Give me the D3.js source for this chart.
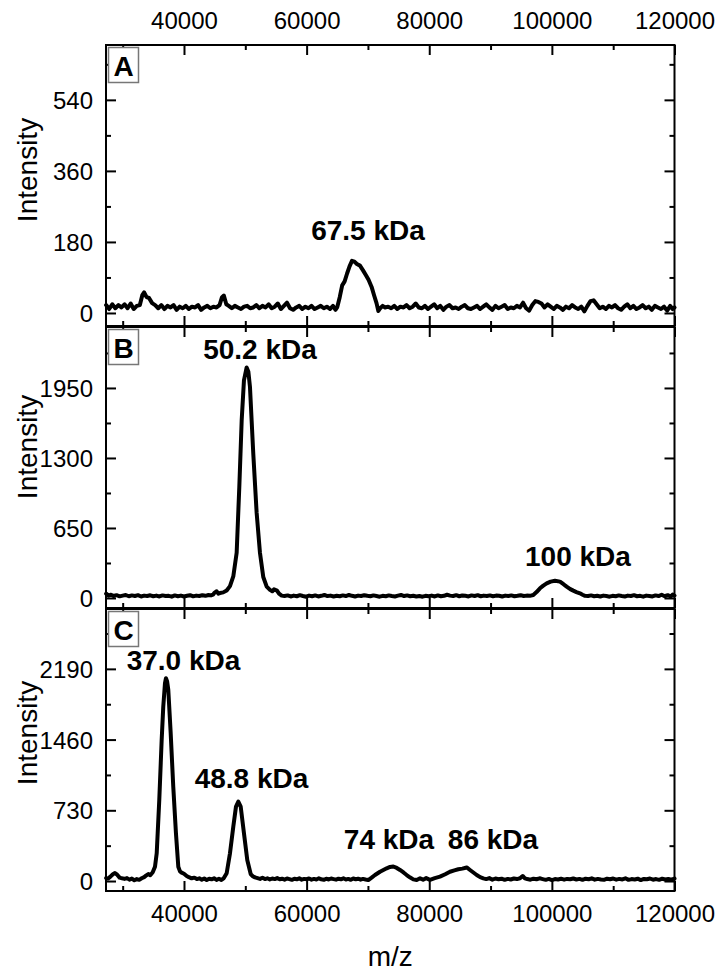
<!DOCTYPE html>
<html><head><meta charset="utf-8">
<script src="https://cdn.jsdelivr.net/npm/d3@7"></script>
<style>
body{margin:0;background:#fff}
svg{display:block}
text{font-family:"Liberation Sans",Arial,Helvetica,sans-serif;fill:#000}
</style>
</head><body>
<svg id="chart" width="718" height="974"></svg>
<script>
// ---------- DATA (m/z, intensity) ----------
const spectrumA = [
[27300,20],[27800,10],[28300,22],[28800,12],[29300,20],[29800,14],[30300,22],[30800,12],[31300,24],[31800,10],
[32300,18],[32800,20],[33200,45],[33500,52],[33900,40],[34300,38],[34800,25],[35300,20],[35800,12],[36300,20],
[36800,10],[37300,18],[37800,14],[38300,20],[38800,8],[39300,16],[39800,12],[40300,18],[40800,10],[41300,16],
[41800,14],[42300,20],[42800,8],[43300,14],[43800,18],[44300,12],[44800,16],[45300,14],[45800,20],[46200,40],
[46500,44],[46900,22],[47300,18],[47800,12],[48300,18],[48800,14],[49300,10],[49800,16],[50300,18],[50800,12],
[51300,14],[51800,20],[52300,12],[52800,18],[53300,14],[53800,22],[54300,12],[54800,16],[55300,24],[55800,10],
[56300,18],[56800,26],[57300,12],[57800,8],[58300,14],[58800,18],[59300,10],[59800,16],[60300,12],[60800,18],
[61300,10],[61800,14],[62300,18],[62800,12],[63300,16],[63800,10],[64300,18],[64700,8],[65000,15],[65400,40],
[65800,70],[66200,80],[66600,100],[67000,118],[67400,132],[67800,130],[68200,124],[68700,120],[69200,108],[69700,95],
[70100,84],[70600,66],[71000,45],[71400,25],[71700,5],[72000,12],[72400,18],[72800,14],[73300,16],[73800,12],
[74300,18],[74800,10],[75300,16],[75800,14],[76300,20],[76800,12],[77300,16],[77800,24],[78300,14],[78800,12],
[79300,18],[79800,10],[80300,16],[80800,22],[81300,12],[81800,18],[82300,8],[82800,16],[83300,20],[83800,12],
[84300,14],[84800,10],[85300,16],[85800,20],[86300,12],[86800,10],[87300,14],[87800,18],[88300,10],[88800,16],
[89300,22],[89800,14],[90300,8],[90800,18],[91300,12],[91800,16],[92300,20],[92800,10],[93300,14],[93800,12],
[94300,18],[94800,14],[95300,26],[95800,12],[96300,6],[96800,20],[97300,30],[97800,28],[98300,24],[98800,14],
[99300,22],[99800,16],[100300,10],[100800,18],[101300,14],[101800,8],[102300,16],[102800,12],[103300,20],[103800,14],
[104300,10],[104800,16],[105300,4],[105800,18],[106300,30],[106800,32],[107300,22],[107800,12],[108300,16],[108800,10],
[109300,18],[109800,14],[110300,20],[110800,12],[111300,8],[111800,16],[112300,22],[112800,12],[113300,18],[113800,10],
[114300,14],[114800,20],[115300,12],[115800,16],[116300,8],[116800,18],[117300,14],[117800,10],[118300,16],[118800,6],
[119300,18],[119700,10],[120000,14]
];
const spectrumB = [
[27300,40],[27700,22],[28100,30],[28500,18],[29000,26],[29500,15],[30000,22],[30500,28],[31000,16],[31500,24],
[32000,18],[32500,26],[33000,14],[33500,22],[34000,18],[34500,25],[35000,16],[35500,22],[36000,14],[36500,24],
[37000,18],[37500,20],[38000,12],[38500,24],[39000,16],[39500,22],[40000,14],[40500,20],[41000,26],[41500,15],
[42000,22],[42500,18],[43000,26],[43500,20],[44000,28],[44400,24],[44730,31],[45000,50],[45330,62],[45600,40],
[45870,46],[46400,52],[46960,70],[47500,110],[48040,200],[48590,420],[49020,1030],[49410,1650],[49780,2020],[50220,2140],
[50500,2100],[50760,1960],[51300,1340],[51850,790],[52390,420],[52930,195],[53490,105],[54020,75],[54400,62],[54680,80],
[55170,68],[55500,40],[55930,22],[56400,18],[56900,24],[57400,14],[57900,22],[58400,16],[58900,26],[59400,18],
[59900,12],[60400,22],[60900,16],[61400,24],[61900,14],[62400,20],[62900,28],[63400,18],[63900,22],[64400,14],
[64900,20],[65400,16],[65900,24],[66400,18],[66900,28],[67400,20],[67900,14],[68400,22],[68900,18],[69400,26],
[69900,20],[70400,16],[70900,24],[71400,18],[71900,12],[72400,20],[72900,16],[73400,24],[73900,18],[74400,14],
[74900,22],[75400,28],[75900,18],[76400,24],[76900,16],[77400,20],[77900,14],[78400,18],[78900,12],[79400,20],
[79900,16],[80400,22],[80900,14],[81400,24],[81900,16],[82400,20],[82900,30],[83400,22],[83900,18],[84400,26],
[84900,16],[85400,24],[85900,20],[86400,14],[86900,24],[87400,18],[87900,26],[88400,16],[88900,22],[89400,18],
[89900,24],[90400,16],[90900,22],[91400,20],[91900,14],[92400,22],[92900,18],[93400,24],[93900,16],[94400,20],
[94900,26],[95400,18],[95900,22],[96400,20],[96970,28],[97500,55],[98060,90],[98600,115],[99150,136],[99800,152],
[100510,160],[101320,152],[101900,128],[102410,105],[103000,82],[103490,68],[104000,55],[104580,43],[105000,30],[105400,20],
[105900,18],[106400,24],[106900,16],[107400,20],[107900,14],[108400,22],[108900,18],[109400,12],[109900,20],[110400,16],
[110900,24],[111400,18],[111900,14],[112400,22],[112900,18],[113400,26],[113900,16],[114400,20],[114900,12],[115400,22],
[115900,18],[116400,14],[116900,24],[117400,18],[117900,30],[118400,16],[118900,26],[119400,14],[119700,32],[120000,22]
];
const spectrumC = [
[27300,30],[27600,25],[28000,45],[28400,70],[28740,82],[29100,65],[29500,35],[29900,28],[30300,22],[30700,30],
[31100,14],[31500,25],[31900,8],[32300,20],[32700,12],[33100,28],[33500,40],[33800,55],[34180,72],[34500,60],
[34900,90],[35270,148],[35550,286],[35970,837],[36360,1457],[36620,1800],[36900,2042],[37060,2094],[37250,2060],[37440,1973],
[37830,1526],[38250,974],[38690,493],[39070,148],[39350,100],[39620,86],[40000,75],[40440,52],[40800,40],[41250,28],
[41700,35],[42100,20],[42500,28],[42900,14],[43300,26],[43700,10],[44100,24],[44500,18],[44900,28],[45300,12],
[45700,24],[46100,10],[46500,30],[46960,80],[47500,286],[48040,561],[48480,768],[48860,819],[49250,768],[49780,493],
[50320,217],[50880,72],[51200,50],[51580,38],[52000,30],[52400,22],[52800,34],[53200,20],[53600,28],[54000,16],
[54400,26],[54800,20],[55200,30],[55600,18],[56000,24],[56400,14],[56800,26],[57200,20],[57600,12],[58000,24],
[58400,18],[58800,28],[59200,14],[59600,22],[60000,18],[60400,26],[60800,14],[61200,22],[61600,16],[62000,28],
[62400,18],[62800,12],[63200,24],[63600,16],[64000,26],[64400,20],[64800,14],[65200,24],[65600,18],[66000,28],
[66400,16],[66800,22],[67200,12],[67600,26],[68000,18],[68400,24],[68800,14],[69200,22],[69600,16],[70060,10],
[70600,35],[71150,62],[71970,96],[73060,131],[73600,145],[74140,150],[74700,135],[75230,114],[75800,88],[76320,62],
[76900,36],[77400,17],[77950,10],[78500,28],[79000,14],[79500,30],[80120,12],[80900,30],[81750,45],[82600,70],
[83380,96],[84100,110],[84740,121],[85400,128],[86110,140],[86650,114],[87200,88],[87740,62],[88300,40],[88820,28],
[89300,20],[89800,30],[90300,14],[90800,26],[91300,18],[91800,24],[92300,12],[92800,22],[93300,16],[93800,26],
[94300,20],[94800,28],[95240,52],[95600,28],[96000,20],[96500,14],[97000,24],[97500,18],[98000,28],[98500,20],
[99000,12],[99500,22],[100000,10],[100500,20],[101000,16],[101500,24],[102000,14],[102500,22],[103000,18],[103500,26],
[104000,16],[104500,22],[105000,12],[105500,24],[106000,18],[106500,28],[107000,14],[107500,22],[108000,16],[108500,12],
[109000,24],[109500,18],[110000,26],[110500,14],[111000,22],[111500,16],[112000,28],[112500,12],[113000,20],[113500,16],
[114000,24],[114500,10],[115000,22],[115500,18],[116000,26],[116500,14],[117000,20],[117500,12],[118000,24],[118500,16],
[119000,22],[119500,14],[120000,26]
];

const xDomain = [27280, 120000];
const xMajorTicks = [40000, 60000, 80000, 100000, 120000];
const xMinorTicks = [30000, 50000, 70000, 90000, 110000];

const yDomainA = [-33, 679], yMajorA = [0, 180, 360, 540], yMinorA = [90, 270, 450, 630];
const yDomainB = [-93, 2516], yMajorB = [0, 650, 1300, 1950], yMinorB = [325, 975, 1625, 2275];
const yDomainC = [-103, 2808], yMajorC = [0, 730, 1460, 2190], yMinorC = [365, 1095, 1825, 2555];

const panelLetters = ["A", "B", "C"];
// annotations: [label, m/z position of label centre, intensity of label baseline]
const annotationsA = [["67.5 kDa", 70010, 185]];
const annotationsB = [["50.2 kDa", 52390, 2217], ["100 kDa", 104260, 297]];
const annotationsC = [["37.0 kDa", 39920, 2180], ["48.8 kDa", 51010, 961], ["74 kDa", 73430, 331], ["86 kDa", 90400, 331]];

const yLabel = "Intensity";
const xLabel = "m/z";

// ---------- LAYOUT ----------
const left = 106, right = 674.5;
const panels = [
  {letter: panelLetters[0], data: spectrumA, dom: yDomainA, major: yMajorA, minor: yMinorA, top: 45, bottom: 326, labY: 170, ann: annotationsA},
  {letter: panelLetters[1], data: spectrumB, dom: yDomainB, major: yMajorB, minor: yMinorB, top: 327, bottom: 608, labY: 447, ann: annotationsB},
  {letter: panelLetters[2], data: spectrumC, dom: yDomainC, major: yMajorC, minor: yMinorC, top: 609, bottom: 891, labY: 733, ann: annotationsC}
];

const svg = d3.select("#chart");
const x = d3.scaleLinear().domain(xDomain).range([left, right]);
const fmt = d3.format("d");
const tickFont = "24px";

function styleAxis(g, showLabels) {
  g.select(".domain").remove();
  g.selectAll(".tick line").attr("stroke", "#000").attr("stroke-width", 2);
  g.selectAll(".tick text").style("font-size", tickFont).attr("fill", "#000");
  if (!showLabels) g.selectAll(".tick text").remove();
}

panels.forEach((p, i) => {
  const y = d3.scaleLinear().domain(p.dom).range([p.bottom, p.top]);
  const g = svg.append("g");

  // spectrum line
  g.append("path")
    .datum(p.data)
    .attr("fill", "none")
    .attr("stroke", "#000")
    .attr("stroke-width", 4)
    .attr("stroke-linejoin", "round")
    .attr("stroke-linecap", "round")
    .attr("d", d3.line().x(d => x(d[0])).y(d => y(d[1])));

  // left axis (major with labels)
  const gl = g.append("g").attr("transform", `translate(${left},0)`)
    .call(d3.axisLeft(y).tickValues(p.major).tickSizeInner(-10).tickSizeOuter(0).tickPadding(13).tickFormat(fmt));
  styleAxis(gl, true);
  gl.selectAll(".tick text").attr("dy", "0.36em");
  const glm = g.append("g").attr("transform", `translate(${left},0)`)
    .call(d3.axisLeft(y).tickValues(p.minor).tickSizeInner(-5).tickSizeOuter(0));
  styleAxis(glm, false);

  // right axis
  const gr = g.append("g").attr("transform", `translate(${right},0)`)
    .call(d3.axisRight(y).tickValues(p.major).tickSizeInner(-10).tickSizeOuter(0));
  styleAxis(gr, false);
  const grm = g.append("g").attr("transform", `translate(${right},0)`)
    .call(d3.axisRight(y).tickValues(p.minor).tickSizeInner(-5).tickSizeOuter(0));
  styleAxis(grm, false);

  // top axis
  const gt = g.append("g").attr("transform", `translate(0,${p.top})`)
    .call(d3.axisTop(x).tickValues(xMajorTicks).tickSizeInner(-10).tickSizeOuter(0).tickPadding(16).tickFormat(fmt));
  styleAxis(gt, i === 0);
  const gtm = g.append("g").attr("transform", `translate(0,${p.top})`)
    .call(d3.axisTop(x).tickValues(xMinorTicks).tickSizeInner(-5).tickSizeOuter(0));
  styleAxis(gtm, false);

  // bottom axis
  const gb = g.append("g").attr("transform", `translate(0,${p.bottom})`)
    .call(d3.axisBottom(x).tickValues(xMajorTicks).tickSizeInner(-10).tickSizeOuter(0).tickPadding(14).tickFormat(fmt));
  styleAxis(gb, i === 2);
  const gbm = g.append("g").attr("transform", `translate(0,${p.bottom})`)
    .call(d3.axisBottom(x).tickValues(xMinorTicks).tickSizeInner(-5).tickSizeOuter(0));
  styleAxis(gbm, false);

  // frame
  g.append("rect")
    .attr("x", left).attr("y", p.top)
    .attr("width", right - left).attr("height", p.bottom - p.top)
    .attr("fill", "none").attr("stroke", "#000").attr("stroke-width", 2);

  // panel letter box
  g.append("rect")
    .attr("x", left + 2.5).attr("y", p.top + 2.5)
    .attr("width", 30).attr("height", 35)
    .attr("fill", "#fff").attr("stroke", "#777").attr("stroke-width", 1.5);
  g.append("text")
    .attr("x", left + 17.5).attr("y", p.top + 31)
    .attr("text-anchor", "middle")
    .style("font-size", "28px").style("font-weight", "bold")
    .text(p.letter);

  // annotations
  p.ann.forEach(a => {
    g.append("text")
      .attr("x", x(a[1])).attr("y", y(a[2]))
      .attr("text-anchor", "middle")
      .style("font-size", "28px").style("font-weight", "bold")
      .text(a[0]);
  });

  // y label
  g.append("text")
    .attr("transform", `translate(37,${p.labY}) rotate(-90)`)
    .attr("text-anchor", "middle")
    .style("font-size", "28px")
    .text(yLabel);
});

svg.append("text")
  .attr("x", (left + right) / 2).attr("y", 966)
  .attr("text-anchor", "middle")
  .style("font-size", "28px")
  .text(xLabel);
</script>
</body></html>
